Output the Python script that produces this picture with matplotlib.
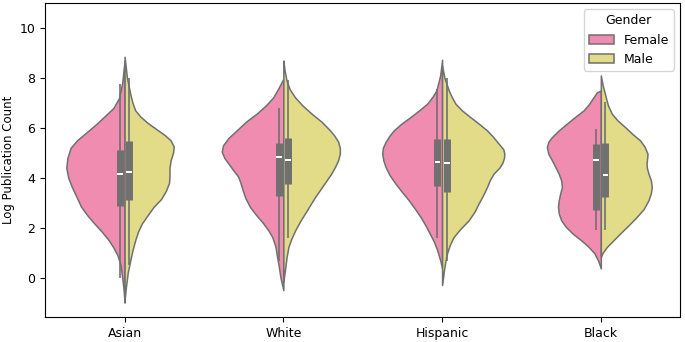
import numpy as np
import matplotlib
matplotlib.use('Agg')
import matplotlib.pyplot as plt

plt.rcParams['font.size'] = 9

categories = ['Asian', 'White', 'Hispanic', 'Black']
genders = ['Female', 'Male']
colors = {'Female': '#f08caf', 'Male': '#e2dc88'}

# half-violin outlines: (log count, half width)
asian_female = [(-1.0, 0), (-0.5, 0.006), (0.0, 0.015), (0.5, 0.025), (0.9, 0.045), (1.2, 0.07),
                (1.5, 0.10), (1.85, 0.145), (2.2, 0.195), (2.5, 0.235), (2.85, 0.275), (3.2, 0.30),
                (3.6, 0.33), (4.0, 0.355), (4.4, 0.367), (4.8, 0.36), (5.2, 0.34), (5.5, 0.30),
                (5.9, 0.225), (6.2, 0.17), (6.5, 0.12), (6.8, 0.07), (7.2, 0.035), (7.8, 0.015),
                (8.7, 0)]
asian_male = [(-0.9, 0), (-0.4, 0.008), (0.2, 0.02), (0.7, 0.036), (1.1, 0.05), (1.5, 0.067),
              (1.85, 0.085), (2.17, 0.109), (2.5, 0.145), (2.83, 0.182), (3.15, 0.23), (3.5, 0.262),
              (3.8, 0.28), (4.1, 0.283), (4.4, 0.283), (4.7, 0.29), (5.0, 0.305), (5.25, 0.31),
              (5.5, 0.29), (5.7, 0.255), (5.95, 0.2), (6.2, 0.145), (6.45, 0.1), (6.7, 0.067),
              (7.0, 0.05), (7.3, 0.038), (8.0, 0.015), (8.85, 0)]
white_female = [(-0.5, 0), (0.0, 0.018), (0.5, 0.03), (0.85, 0.04), (1.25, 0.05), (1.63, 0.07),
                (1.9, 0.095), (2.17, 0.126), (2.5, 0.17), (2.83, 0.21), (3.2, 0.24), (3.5, 0.256),
                (3.8, 0.27), (4.05, 0.285), (4.3, 0.315), (4.57, 0.346), (4.8, 0.372), (5.05, 0.388),
                (5.3, 0.38), (5.6, 0.345), (5.9, 0.294), (6.25, 0.235), (6.57, 0.168), (6.9, 0.11),
                (7.23, 0.063), (7.6, 0.03), (7.97, 0)]
white_male = [(-0.17, 0), (0.3, 0.01), (0.8, 0.02), (1.23, 0.032), (1.55, 0.05), (1.9, 0.075),
              (2.25, 0.105), (2.57, 0.136), (2.9, 0.168), (3.23, 0.2), (3.55, 0.235), (3.9, 0.273),
              (4.15, 0.3), (4.43, 0.325), (4.7, 0.345), (4.97, 0.356), (5.2, 0.356), (5.45, 0.345),
              (5.7, 0.32), (5.9, 0.294), (6.25, 0.24), (6.57, 0.178), (6.9, 0.12), (7.23, 0.073),
              (7.55, 0.04), (7.9, 0.02), (8.3, 0.008), (8.7, 0)]
hisp_female = [(0.37, 0), (0.7, 0.012), (1.1, 0.031), (1.45, 0.052), (1.77, 0.078), (2.1, 0.105),
               (2.43, 0.136), (2.75, 0.17), (3.1, 0.21), (3.45, 0.255), (3.77, 0.294), (4.1, 0.33),
               (4.43, 0.356), (4.7, 0.37), (4.97, 0.377), (5.2, 0.373), (5.45, 0.355), (5.7, 0.33),
               (5.9, 0.304), (6.15, 0.26), (6.43, 0.2), (6.7, 0.145), (6.97, 0.094), (7.25, 0.06),
               (7.5, 0.036), (8.1, 0.012), (8.73, 0)]
hisp_male = [(-0.3, 0), (0.3, 0.012), (0.7, 0.022), (0.97, 0.031), (1.3, 0.048), (1.63, 0.073),
             (1.95, 0.115), (2.3, 0.168), (2.65, 0.205), (2.97, 0.23), (3.3, 0.258), (3.63, 0.283),
             (3.9, 0.3), (4.17, 0.325), (4.4, 0.36), (4.6, 0.38), (4.8, 0.39), (4.97, 0.392),
             (5.15, 0.385), (5.37, 0.356), (5.65, 0.32), (5.9, 0.283), (6.15, 0.235), (6.43, 0.178),
             (6.7, 0.125), (6.97, 0.084), (7.25, 0.06), (7.5, 0.042), (8.0, 0.015), (8.5, 0)]
black_female = [(0.37, 0), (0.65, 0.015), (0.97, 0.04), (1.25, 0.08), (1.5, 0.125), (1.75, 0.175),
                (2.03, 0.22), (2.3, 0.25), (2.57, 0.265), (2.85, 0.27), (3.1, 0.265), (3.4, 0.255),
                (3.63, 0.245), (3.9, 0.25), (4.17, 0.266), (4.45, 0.288), (4.7, 0.308), (4.95, 0.33),
                (5.23, 0.34), (5.45, 0.33), (5.63, 0.308), (5.9, 0.265), (6.17, 0.214), (6.45, 0.16),
                (6.7, 0.109), (6.95, 0.075), (7.23, 0.046), (7.42, 0.025), (7.5, 0)]
black_male = [(0.83, 0), (1.0, 0.012), (1.23, 0.038), (1.5, 0.08), (1.77, 0.122), (2.1, 0.175),
              (2.43, 0.226), (2.75, 0.27), (3.1, 0.3), (3.38, 0.315), (3.63, 0.321), (3.9, 0.315),
              (4.17, 0.3), (4.4, 0.29), (4.57, 0.288), (4.8, 0.292), (4.97, 0.294), (5.25, 0.275),
              (5.5, 0.247), (5.75, 0.2), (6.03, 0.153), (6.3, 0.105), (6.57, 0.069), (6.9, 0.045),
              (7.23, 0.031), (7.7, 0.012), (8.1, 0)]

outlines = {
    'Female': [asian_female, white_female, hisp_female, black_female],
    'Male': [asian_male, white_male, hisp_male, black_male],
}

# inner box stats per category (Asian, White, Hispanic, Black)
female_q1 = [2.86, 3.26, 3.67, 2.70]
female_med = [4.14, 4.83, 4.63, 4.70]
female_q3 = [5.10, 5.39, 5.57, 5.37]
female_lo = [0.0, 0.65, 1.57, 1.90]
female_hi = [7.77, 6.80, 7.57, 5.97]

male_q1 = [3.10, 3.74, 3.41, 3.23]
male_med = [4.23, 4.70, 4.60, 4.12]
male_q3 = [5.46, 5.61, 5.57, 5.39]
male_lo = [0.5, 1.58, 0.68, 1.90]
male_hi = [8.0, 7.90, 8.0, 7.03]

boxes = {
    'Female': (female_q1, female_med, female_q3, female_lo, female_hi),
    'Male': (male_q1, male_med, male_q3, male_lo, male_hi),
}

fig = plt.figure(figsize=(6.85, 3.42), dpi=100)
ax = fig.add_axes([0.066, 0.073, 0.927, 0.918])

edge = '#707070'
for g in genders:
    side = -1 if g == 'Female' else 1
    for i, prof in enumerate(outlines[g]):
        ys = np.array([p[0] for p in prof])
        ws = np.array([p[1] for p in prof])
        ax.fill_betweenx(ys, i, i + side * ws, facecolor=colors[g],
                         edgecolor=edge, linewidth=1.1, zorder=1)

    q1, med, q3, lo, hi = boxes[g]
    for i in range(len(categories)):
        x = i + side * 0.029
        ax.plot([x, x], [lo[i], hi[i]], color=edge, lw=1.2, solid_capstyle='butt', zorder=3)
        ax.plot([x, x], [q1[i], q3[i]], color=edge, lw=5, solid_capstyle='butt', zorder=3)
        ax.plot([x - 0.012, x + 0.012], [med[i], med[i]], color='white', lw=1.4, zorder=4)

ax.set_xlim(-0.5, 3.5)
ax.set_ylim(-1.58, 11.0)
ax.set_xticks(range(len(categories)))
ax.set_xticklabels(categories)
ax.set_yticks([0, 2, 4, 6, 8, 10])
ax.set_ylabel('Log Publication Count', fontsize=8.5, labelpad=3)

handles = [plt.Rectangle((0, 0), 1, 1, facecolor=colors[g], edgecolor=edge, lw=1.1) for g in genders]
ax.legend(handles, genders, title='Gender', loc='upper right')

fig.savefig('out.png', dpi=100)
